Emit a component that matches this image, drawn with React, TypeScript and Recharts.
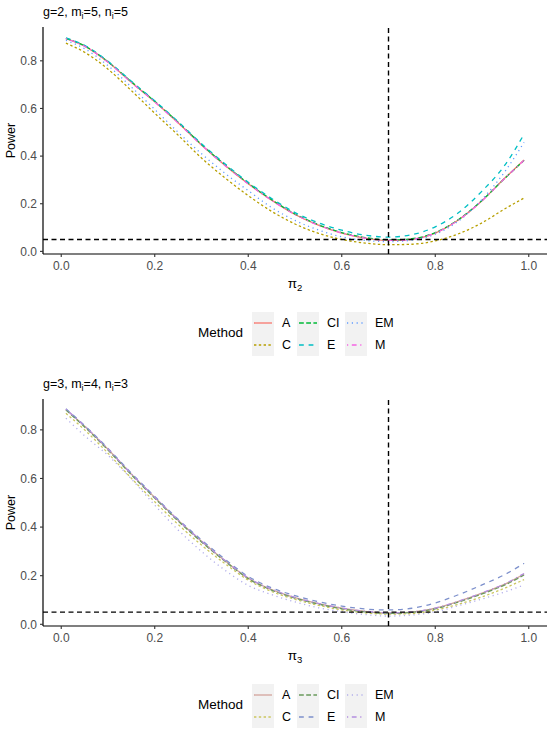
import React from 'react';
import { LineChart, Line, XAxis, YAxis, ReferenceLine, Label } from 'recharts';

const FONT = '"Liberation Sans", Arial, Helvetica, sans-serif';

const xValues = [0.01, 0.05, 0.1, 0.15, 0.2, 0.25, 0.3, 0.35, 0.4, 0.45, 0.5, 0.55, 0.6, 0.65, 0.7, 0.75, 0.8, 0.85, 0.9, 0.95, 0.99];
const methods = ['A', 'C', 'CI', 'E', 'EM', 'M'];
const xTicks = [0, 0.2, 0.4, 0.6, 0.8, 1.0];
const yTicks = [0, 0.2, 0.4, 0.6, 0.8];
const refX = 0.7;
const refY = 0.05;

// Panel 1: g=2, m_i=5, n_i=5
const topA = [0.893, 0.862, 0.795, 0.710, 0.628, 0.540, 0.447, 0.362, 0.284, 0.215, 0.155, 0.110, 0.077, 0.056, 0.046, 0.051, 0.077, 0.133, 0.213, 0.310, 0.384];
const topC = [0.874, 0.836, 0.765, 0.675, 0.580, 0.488, 0.392, 0.309, 0.234, 0.168, 0.115, 0.076, 0.050, 0.035, 0.028, 0.030, 0.044, 0.074, 0.120, 0.180, 0.224];
const topCI = [0.894, 0.863, 0.796, 0.712, 0.630, 0.542, 0.449, 0.364, 0.286, 0.217, 0.157, 0.112, 0.079, 0.058, 0.048, 0.053, 0.079, 0.134, 0.214, 0.309, 0.382];
const topE = [0.896, 0.865, 0.798, 0.714, 0.632, 0.545, 0.452, 0.368, 0.290, 0.222, 0.163, 0.120, 0.089, 0.068, 0.060, 0.070, 0.103, 0.163, 0.253, 0.365, 0.492];
const topEM = [0.886, 0.851, 0.780, 0.690, 0.596, 0.500, 0.410, 0.328, 0.255, 0.184, 0.130, 0.090, 0.061, 0.046, 0.041, 0.047, 0.072, 0.128, 0.218, 0.338, 0.458];
const topM = [0.893, 0.861, 0.794, 0.709, 0.627, 0.539, 0.446, 0.361, 0.283, 0.214, 0.155, 0.110, 0.077, 0.056, 0.046, 0.051, 0.077, 0.132, 0.212, 0.309, 0.383];

// Panel 2: g=3, m_i=4, n_i=3
const botA = [0.884, 0.815, 0.720, 0.618, 0.522, 0.428, 0.342, 0.262, 0.190, 0.143, 0.110, 0.085, 0.066, 0.053, 0.046, 0.050, 0.066, 0.094, 0.128, 0.166, 0.207];
const botC = [0.868, 0.800, 0.704, 0.601, 0.504, 0.411, 0.326, 0.250, 0.182, 0.135, 0.103, 0.078, 0.059, 0.047, 0.042, 0.044, 0.058, 0.083, 0.113, 0.150, 0.184];
const botCI = [0.882, 0.812, 0.717, 0.615, 0.519, 0.425, 0.339, 0.260, 0.188, 0.141, 0.108, 0.083, 0.064, 0.051, 0.045, 0.049, 0.064, 0.092, 0.125, 0.163, 0.203];
const botE = [0.887, 0.818, 0.724, 0.622, 0.526, 0.432, 0.347, 0.268, 0.197, 0.150, 0.118, 0.093, 0.075, 0.063, 0.059, 0.066, 0.088, 0.122, 0.162, 0.206, 0.251];
const botEM = [0.848, 0.776, 0.695, 0.598, 0.490, 0.388, 0.300, 0.223, 0.160, 0.122, 0.092, 0.068, 0.052, 0.040, 0.034, 0.038, 0.051, 0.077, 0.104, 0.134, 0.162];
const botM = [0.885, 0.816, 0.721, 0.619, 0.523, 0.429, 0.343, 0.263, 0.191, 0.144, 0.111, 0.086, 0.067, 0.054, 0.047, 0.051, 0.067, 0.095, 0.129, 0.168, 0.209];

const topColors = ['#F8766D', '#B79F00', '#00BA38', '#00BFC4', '#619CFF', '#F564E3'];
const botColors = ['#D2A39B', '#CBC660', '#6A9A5C', '#7D90CC', '#B2AEEA', '#B48EE0'];
const dashes = ['0', '2.4 2.4', '4.8 2.4', '4.8 4.8', '1.2 3.6', '1.2 3.6 4.8 3.6'];

const buildRows = (series: number[][]) =>
  xValues.map((x, i) => {
    const row: Record<string, number> = { x };
    methods.forEach((m, k) => {
      row[m] = series[k][i];
    });
    return row;
  });

const topRows = buildRows([topA, topC, topCI, topE, topEM, topM]);
const botRows = buildRows([botA, botC, botCI, botE, botEM, botM]);

const PANEL_H = 366;

function Legend({ colors }: { colors: string[] }) {
  const colX = [252, 297, 345];
  const cols = [[0, 1], [2, 3], [4, 5]];
  return (
    <div style={{ position: 'absolute', left: 0, top: 312, width: 550, height: 44, fontFamily: FONT }}>
      <div style={{ position: 'absolute', left: 198, top: 13, fontSize: 13.5, color: '#000', lineHeight: '16px' }}>Method</div>
      {cols.map((col, ci) => (
        <div key={ci} style={{ position: 'absolute', left: colX[ci], top: 0 }}>
          {col.map((k, ri) => (
            <div key={k} style={{ position: 'absolute', left: 0, top: ri * 22, height: 22, display: 'flex', alignItems: 'center' }}>
              <svg width={22} height={22} style={{ display: 'block', background: '#F2F2F2' }}>
                <line x1={2} x2={20} y1={11} y2={11} stroke={colors[k]} strokeWidth={1.3} strokeDasharray={dashes[k]} />
              </svg>
              <span style={{ marginLeft: 8, fontSize: 12.5, color: '#000', whiteSpace: 'nowrap' }}>{methods[k]}</span>
            </div>
          ))}
        </div>
      ))}
    </div>
  );
}

function Panel({ rows, colors, top, g, m, n, sub, yMin, yMax }: any) {
  return (
    <div style={{ position: 'absolute', left: 0, top, width: 550, height: PANEL_H }}>
      <div style={{ position: 'absolute', left: 43, top: 4, fontFamily: FONT, fontSize: 12.5, color: '#000', whiteSpace: 'nowrap', lineHeight: '16px' }}>
        g={g}, m<sub style={{ fontSize: 9, verticalAlign: '-3px', lineHeight: 0 }}>i</sub>={m}, n<sub style={{ fontSize: 9, verticalAlign: '-3px', lineHeight: 0 }}>i</sub>={n}
      </div>
      <LineChart width={550} height={PANEL_H} data={rows} margin={{ top: 27, right: 3, bottom: 82, left: 3 }}>
        <XAxis
          type="number"
          dataKey="x"
          domain={[-0.039, 1.039]}
          ticks={xTicks}
          allowDataOverflow
          tickFormatter={(v: number) => v.toFixed(1)}
          stroke="#000"
          tickSize={3}
          tickMargin={4}
          height={30}
          tick={{ fill: '#4D4D4D', fontSize: 12, fontFamily: FONT }}
          axisLine={{ stroke: '#000', strokeWidth: 1.2 }}
          tickLine={{ stroke: '#333', strokeWidth: 1.1 }}
        >
          <Label
            content={(props: any) => {
              const vb = props.viewBox || {};
              const cx = vb.x + vb.width / 2;
              const y = vb.y + 34;
              return (
                <text x={cx} y={y} textAnchor="middle" fontFamily={FONT} fontSize={13.5} fill="#000">
                  π<tspan fontSize={9.5} dy={3}>{sub}</tspan>
                </text>
              );
            }}
          />
        </XAxis>
        <YAxis
          type="number"
          domain={[yMin, yMax]}
          ticks={yTicks}
          allowDataOverflow
          tickFormatter={(v: number) => v.toFixed(1)}
          width={40}
          tickSize={3}
          tickMargin={3}
          tick={{ fill: '#4D4D4D', fontSize: 12, fontFamily: FONT }}
          axisLine={{ stroke: '#000', strokeWidth: 1.2 }}
          tickLine={{ stroke: '#333', strokeWidth: 1.1 }}
        >
          <Label
            content={(props: any) => {
              const vb = props.viewBox || {};
              const cx = 11;
              const cy = vb.y + vb.height / 2;
              return (
                <text x={cx} y={cy} transform={`rotate(-90, ${cx}, ${cy})`} textAnchor="middle" dominantBaseline="central" fontFamily={FONT} fontSize={12.5} fill="#000">
                  Power
                </text>
              );
            }}
          />
        </YAxis>
        {methods.map((mth, k) => (
          <Line
            key={mth}
            type="monotone"
            dataKey={mth}
            stroke={colors[k]}
            strokeWidth={1.3}
            strokeDasharray={dashes[k] === '0' ? undefined : dashes[k]}
            dot={false}
            activeDot={false}
            isAnimationActive={false}
          />
        ))}
        <ReferenceLine x={refX} stroke="#000" strokeWidth={1.4} strokeDasharray="5 3.5" />
        <ReferenceLine y={refY} stroke="#000" strokeWidth={1.4} strokeDasharray="5 3.5" />
      </LineChart>
      <Legend colors={colors} />
    </div>
  );
}

export default function App() {
  return (
    <div style={{ position: 'absolute', left: 0, top: 0, width: 550, height: 732, background: '#fff', overflow: 'hidden' }}>
      <Panel rows={topRows} colors={topColors} top={0} g={2} m={5} n={5} sub="2" yMin={-0.011} yMax={0.942} />
      <Panel rows={botRows} colors={botColors} top={372} g={3} m={4} n={3} sub="3" yMin={-0.007} yMax={0.927} />
    </div>
  );
}
